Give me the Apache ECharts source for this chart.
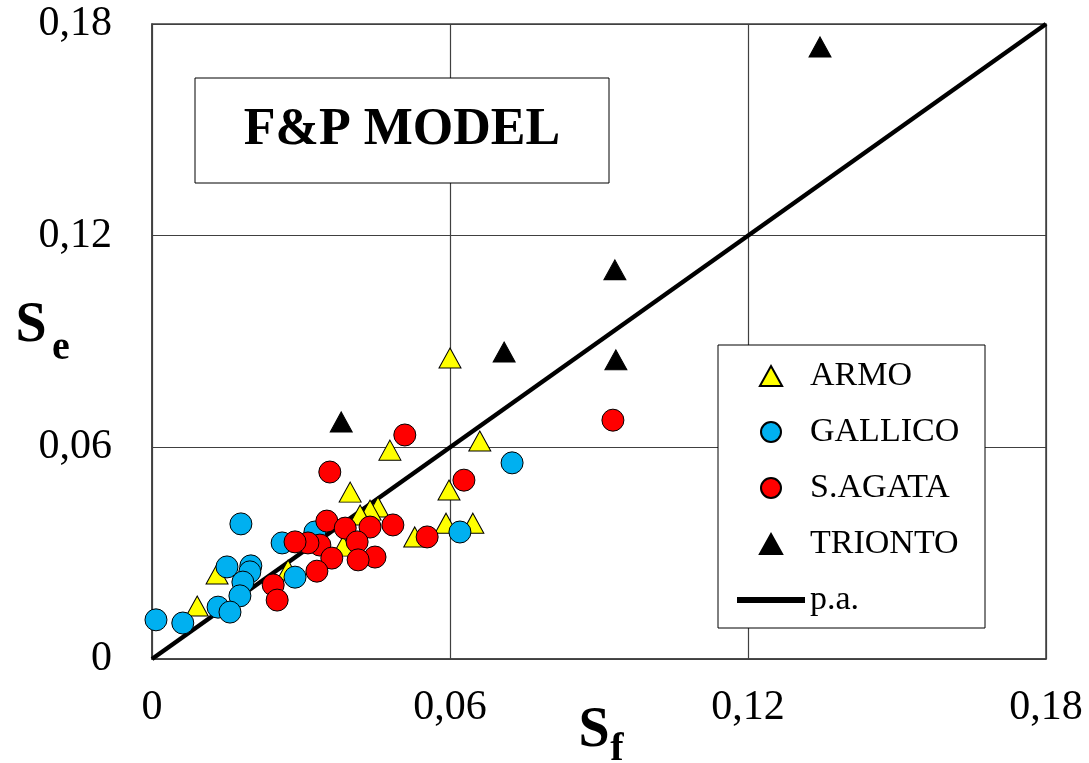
<!DOCTYPE html>
<html>
<head>
<meta charset="utf-8">
<script src="https://cdn.jsdelivr.net/npm/echarts@6/dist/echarts.min.js"></script>
<style>
html,body{margin:0;padding:0;background:#fff;}
#chart{width:1089px;height:763px;}
</style>
</head>
<body>
<div id="chart"></div>
<script>
// Data: [Sf, Se]
const armo = [
  [0.0600, 0.0853], [0.0660, 0.0618], [0.0479, 0.0592], [0.0399, 0.0473],
  [0.0598, 0.0479], [0.0592, 0.0385], [0.0646, 0.0385], [0.0529, 0.0346],
  [0.0455, 0.0431], [0.0439, 0.0422], [0.0419, 0.0408], [0.0385, 0.0320],
  [0.0131, 0.0241], [0.0091, 0.0150], [0.0274, 0.0252]
];
const gallico = [
  [0.0008, 0.0111], [0.0062, 0.0102], [0.0179, 0.0383], [0.0262, 0.0329],
  [0.0328, 0.0360], [0.0151, 0.0261], [0.0199, 0.0264], [0.0197, 0.0247],
  [0.0183, 0.0218], [0.0177, 0.0179], [0.0133, 0.0147], [0.0157, 0.0133],
  [0.0288, 0.0232], [0.0620, 0.0360], [0.0725, 0.0556]
];
const sagata = [
  [0.0509, 0.0635], [0.0358, 0.0530], [0.0628, 0.0507], [0.0928, 0.0677],
  [0.0554, 0.0346], [0.0352, 0.0391], [0.0389, 0.0371], [0.0439, 0.0374],
  [0.0485, 0.0380], [0.0413, 0.0332], [0.0338, 0.0323], [0.0314, 0.0329],
  [0.0288, 0.0332], [0.0449, 0.0289], [0.0415, 0.0281], [0.0362, 0.0286],
  [0.0332, 0.0249], [0.0244, 0.0210], [0.0252, 0.0167]
];
const trionto = [
  [0.1345, 0.1735], [0.0932, 0.1103], [0.0934, 0.0848], [0.0709, 0.0870],
  [0.0381, 0.0672]
];
const perfectAgreement = [[0, 0], [0.18, 0.18]];
const axisMin = 0, axisMax = 0.18, axisStep = 0.06;
const seriesNames = ['ARMO', 'GALLICO', 'S.AGATA', 'TRIONTO', 'p.a.'];
const modelTitle = 'F&P MODEL';

const FONT = '"Liberation Serif", "Times New Roman", serif';
const triPath = 'path://M10,0 L20,18 L0,18 Z';
const fmt = v => v === 0 ? '0' : v.toFixed(2).replace('.', ',');

const chart = echarts.init(document.getElementById('chart'), null, {renderer: 'canvas'});
chart.setOption({
  animation: false,
  backgroundColor: '#fff',
  grid: {left: 152, right: 43, top: 24, bottom: 104, show: true,
         borderColor: '#404040', borderWidth: 1.5, backgroundColor: 'transparent'},
  xAxis: {
    type: 'value', min: axisMin, max: axisMax, interval: axisStep,
    axisLine: {show: true, lineStyle: {color: '#404040', width: 1.5}},
    axisTick: {show: false},
    splitLine: {show: true, lineStyle: {color: '#404040', width: 1.2}},
    axisLabel: {formatter: fmt, fontFamily: FONT, fontSize: 42, color: '#000', margin: 28}
  },
  yAxis: {
    type: 'value', min: axisMin, max: axisMax, interval: axisStep,
    axisLine: {show: true, lineStyle: {color: '#404040', width: 1.5}},
    axisTick: {show: false},
    splitLine: {show: true, lineStyle: {color: '#404040', width: 1.2}},
    axisLabel: {formatter: fmt, fontFamily: FONT, fontSize: 42, color: '#000', margin: 40}
  },
  legend: {
    orient: 'vertical', left: 737, top: 359, z: 10, padding: 0,
    itemWidth: 68, itemHeight: 20, itemGap: 22, symbolKeepAspect: true,
    textStyle: {fontFamily: FONT, fontSize: 34, color: '#000'},
    data: [
      {name: seriesNames[0], icon: triPath},
      {name: seriesNames[1], icon: 'circle'},
      {name: seriesNames[2], icon: 'circle'},
      {name: seriesNames[3], icon: triPath},
      {name: seriesNames[4], icon: 'path://M0,0 H68 V6 H0 Z'}
    ]
  },
  graphic: [
    {type: 'rect', z: 5, shape: {x: 718, y: 345, width: 267, height: 283},
     style: {fill: '#fff', stroke: '#000', lineWidth: 1}},
    {type: 'rect', z: 5, shape: {x: 195, y: 78, width: 414, height: 105},
     style: {fill: '#fff', stroke: '#000', lineWidth: 1}},
    {type: 'text', z: 6, x: 402, y: 131,
     style: {text: modelTitle, font: 'bold 52px ' + FONT, fill: '#000', textAlign: 'center', textVerticalAlign: 'middle'}},
    {type: 'text', z: 6, x: 31, y: 327,
     style: {text: 'S', font: 'bold 56px ' + FONT, fill: '#000', textAlign: 'center', textVerticalAlign: 'middle'}},
    {type: 'text', z: 6, x: 61, y: 349,
     style: {text: 'e', font: 'bold 40px ' + FONT, fill: '#000', textAlign: 'center', textVerticalAlign: 'middle'}},
    {type: 'text', z: 6, x: 594, y: 732,
     style: {text: 'S', font: 'bold 56px ' + FONT, fill: '#000', textAlign: 'center', textVerticalAlign: 'middle'}},
    {type: 'text', z: 6, x: 617, y: 750,
     style: {text: 'f', font: 'bold 40px ' + FONT, fill: '#000', textAlign: 'center', textVerticalAlign: 'middle'}}
  ],
  series: [
    {name: seriesNames[4], type: 'line', data: perfectAgreement, showSymbol: false, z: 1,
     color: '#000', itemStyle: {color: '#000'}, lineStyle: {color: '#000', width: 4.5}},
    {name: seriesNames[0], type: 'scatter', data: armo, symbol: 'triangle', symbolSize: [22, 20], z: 2,
     itemStyle: {color: '#FFFF00', borderColor: '#000', borderWidth: 1, opacity: 1}},
    {name: seriesNames[1], type: 'scatter', data: gallico, symbol: 'circle', symbolSize: 22, z: 3,
     itemStyle: {color: '#00B0F0', borderColor: '#000', borderWidth: 1, opacity: 1}},
    {name: seriesNames[2], type: 'scatter', data: sagata, symbol: 'circle', symbolSize: 22, z: 4,
     itemStyle: {color: '#FF0000', borderColor: '#000', borderWidth: 1, opacity: 1}},
    {name: seriesNames[3], type: 'scatter', data: trionto, symbol: 'triangle', symbolSize: [22, 20], z: 4,
     itemStyle: {color: '#000', borderColor: '#000', borderWidth: 1, opacity: 1}}
  ]
});
</script>
</body>
</html>
